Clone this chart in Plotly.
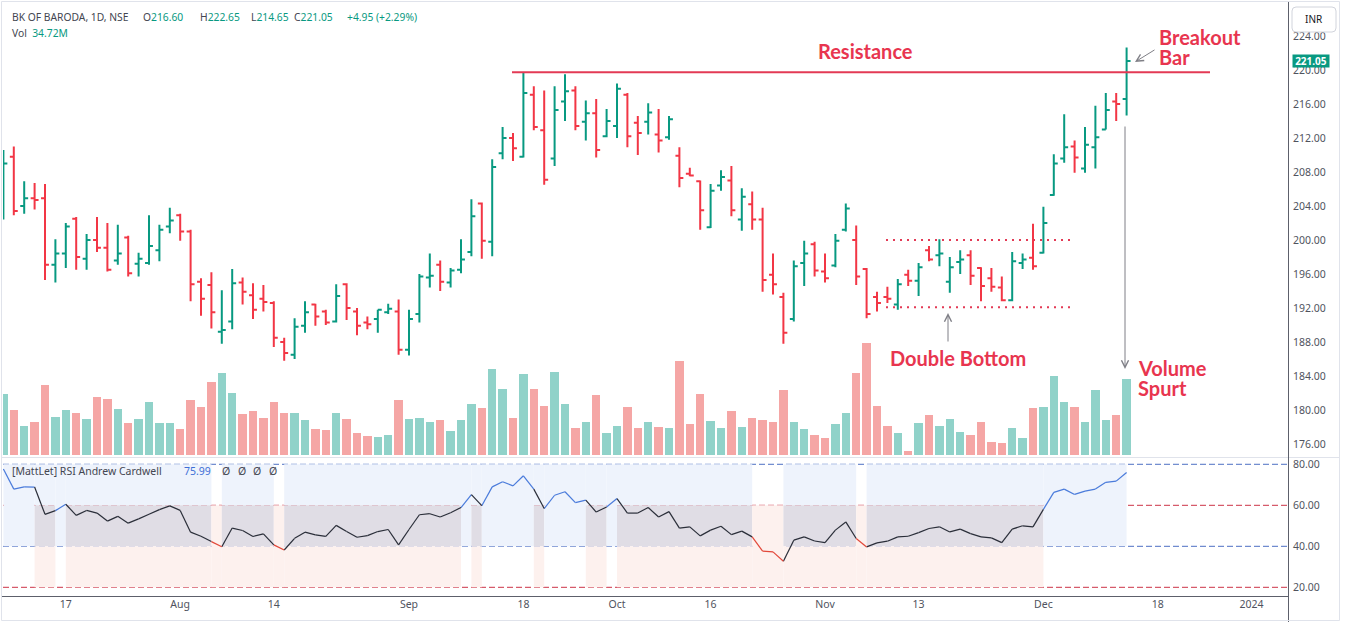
import plotly.graph_objects as go

# ---------------- data ----------------
opens = [206.5, 209.8, 204.0, 204.9, 204.9, 197.1, 198.4, 202.5, 197.8, 200.0,
         199.1, 197.6, 200.3, 197.2, 197.3, 198.8, 201.6, 202.9, 201.0, 195.1,
         194.7, 189.2, 190.4, 195.0, 193.5, 193.1, 192.6, 188.0, 186.5, 189.9,
         192.4, 191.6, 190.4, 194.8, 191.6, 190.3, 190.7, 191.5, 191.6, 187.1,
         191.3, 195.6, 197.1, 195.0, 196.5, 198.6, 204.3, 199.8, 210.2, 212.0,
         209.8, 217.1, 212.9, 209.6, 216.3, 217.6, 213.9, 214.9, 212.2, 213.4,
         217.1, 213.8, 213.9, 212.4, 212.1, 209.9, 207.8, 206.9, 201.5, 206.4,
         207.0, 202.4, 204.2, 202.4, 195.9, 193.3, 190.7, 197.3, 199.5, 196.3,
         197.0, 201.2, 200.0, 196.6, 193.3, 193.3, 192.4, 195.9, 195.2, 198.8,
         198.2, 195.1, 197.4, 198.2, 196.7, 195.5, 194.4, 192.9, 197.3, 197.9,
         198.5, 205.3, 209.6, 211.0, 208.4, 210.9, 213.0, 216.3, 216.60]
highs = [210.6, 211.0, 206.9, 206.7, 206.6, 200.1, 202.0, 202.7, 200.7, 202.7,
         202.0, 201.8, 200.5, 198.5, 202.9, 201.8, 203.8, 203.1, 201.2, 195.5,
         196.2, 194.1, 196.6, 195.6, 194.9, 194.7, 192.8, 188.5, 190.8, 192.8,
         192.5, 191.8, 194.8, 194.9, 192.0, 191.0, 191.8, 192.5, 193.0, 191.8,
         196.0, 198.4, 197.6, 196.7, 200.1, 204.8, 204.4, 209.5, 213.3, 212.6,
         219.7, 218.1, 217.6, 218.1, 219.5, 218.1, 216.4, 216.6, 215.4, 218.4,
         217.3, 214.6, 216.1, 215.4, 214.6, 210.9, 208.5, 207.0, 206.6, 208.2,
         208.7, 206.1, 205.7, 203.8, 198.4, 193.8, 197.6, 199.9, 199.8, 198.4,
         200.7, 204.3, 201.7, 196.7, 193.9, 194.5, 195.4, 196.5, 197.3, 199.3,
         200.1, 198.0, 198.8, 198.8, 196.8, 196.7, 195.7, 198.6, 198.4, 201.9,
         203.9, 210.1, 214.8, 211.7, 213.3, 215.8, 217.3, 217.3, 222.65]
lows = [202.4, 202.9, 203.1, 203.6, 195.3, 195.0, 196.7, 196.5, 196.5, 198.6,
        196.3, 197.1, 195.7, 195.7, 197.1, 197.5, 200.8, 199.9, 192.8, 191.1,
        189.6, 187.8, 189.5, 192.4, 190.7, 191.6, 187.4, 185.8, 186.0, 189.1,
        189.9, 190.0, 190.3, 190.6, 188.8, 189.5, 189.1, 191.3, 186.5, 186.4,
        190.3, 194.4, 194.0, 194.4, 196.1, 198.1, 197.8, 198.1, 209.5, 209.3,
        209.7, 212.9, 206.5, 208.7, 214.0, 212.9, 211.7, 209.7, 212.1, 212.0,
        210.9, 210.0, 212.4, 210.3, 211.8, 206.2, 207.5, 201.2, 201.4, 205.8,
        202.8, 201.1, 201.2, 193.9, 193.6, 187.8, 190.4, 194.6, 195.7, 195.0,
        196.8, 201.0, 194.7, 190.8, 191.6, 192.6, 191.8, 194.6, 193.4, 197.5,
        196.9, 193.8, 196.0, 194.7, 192.8, 193.9, 192.8, 192.8, 196.6, 196.5,
        198.4, 205.2, 209.1, 207.9, 207.9, 208.4, 213.0, 214.0, 214.65]
closes = [209.0, 203.4, 204.9, 204.7, 197.1, 198.4, 201.6, 198.0, 200.0, 199.1,
          196.5, 198.4, 196.1, 197.8, 199.3, 201.2, 202.3, 201.0, 194.8, 193.1,
          191.5, 189.4, 194.9, 193.9, 191.8, 192.7, 188.5, 186.7, 189.8, 191.5,
          191.0, 190.3, 193.4, 192.0, 189.9, 190.1, 191.8, 191.9, 187.1, 190.7,
          195.7, 195.8, 195.1, 196.4, 197.7, 202.8, 199.9, 208.6, 212.0, 210.8,
          217.3, 213.3, 207.1, 215.3, 217.5, 213.4, 214.9, 210.6, 214.0, 217.8,
          212.2, 212.6, 215.0, 211.7, 214.2, 207.3, 207.6, 203.5, 205.8, 207.4,
          203.5, 205.1, 202.4, 195.3, 194.8, 189.1, 196.9, 198.4, 196.4, 195.5,
          199.9, 203.7, 195.7, 191.3, 192.6, 193.1, 194.8, 195.2, 196.8, 197.7,
          198.4, 196.8, 197.7, 195.8, 194.6, 194.5, 192.9, 197.5, 197.7, 196.9,
          202.0, 209.0, 210.9, 209.7, 211.2, 212.1, 215.3, 216.0, 221.05]
volume_m = [27.8, 20.5, 13.2, 15.0, 32.0, 17.3, 20.5, 19.1, 16.4, 26.5,
            25.5, 21.0, 14.5, 16.4, 24.2, 14.5, 14.5, 11.8, 25.1, 21.9,
            33.3, 37.5, 28.3, 18.7, 20.0, 16.8, 24.2, 19.1, 19.1, 15.9,
            11.8, 11.3, 19.1, 16.4, 10.0, 8.6, 8.1, 9.0, 25.1, 16.4,
            16.8, 15.0, 15.9, 10.9, 15.9, 23.3, 21.4, 39.3, 30.1, 16.8,
            37.0, 30.1, 22.3, 37.9, 23.3, 12.2, 15.0, 27.4, 10.0, 13.2,
            21.9, 12.2, 15.0, 12.7, 12.5, 43.1, 14.2, 28.0, 15.6, 12.2,
            20.2, 12.7, 16.8, 16.1, 15.1, 29.8, 15.1, 11.8, 9.2, 7.8,
            14.2, 19.3, 37.6, 51.2, 22.5, 13.3, 10.0, 1.8, 14.7, 18.3,
            13.3, 16.5, 10.6, 9.2, 15.1, 6.0, 5.5, 12.4, 7.8, 21.6,
            22.0, 36.2, 24.3, 22.0, 15.1, 29.8, 16.1, 18.3, 34.72]
rsi = [77.7, 67.9, 69.0, 68.9, 55.6, 57.4, 60.5, 55.1, 57.5, 56.2,
       52.3, 54.6, 51.3, 53.4, 55.6, 57.9, 59.7, 57.5, 46.9, 44.9,
       42.3, 39.8, 48.9, 47.7, 44.8, 46.1, 40.7, 38.2, 43.9, 46.9,
       45.6, 44.8, 50.2, 47.2, 44.4, 45.2, 47.2, 48.2, 40.7, 48.2,
       55.4, 55.9, 54.3, 56.4, 58.9, 65.2, 59.8, 69.0, 71.5, 69.5,
       74.4, 67.9, 58.4, 64.9, 66.6, 61.3, 62.5, 56.7, 59.2, 63.3,
       56.2, 56.2, 58.9, 54.3, 56.9, 48.9, 49.5, 45.1, 47.9, 49.8,
       45.7, 47.4, 44.6, 37.6, 37.3, 32.7, 43.0, 44.6, 42.6, 41.8,
       47.9, 51.9, 43.8, 39.7, 41.7, 42.5, 44.6, 44.9, 46.7, 48.7,
       49.5, 47.0, 48.4, 46.2, 44.6, 44.1, 41.8, 48.4, 50.0, 49.5,
       58.0, 66.3, 67.9, 65.3, 66.9, 67.9, 71.2, 71.8, 75.99]
date_tick_pos = [6, 17, 26, 39, 50, 59, 68, 79, 88, 100, 111, 120]
date_tick_text = ["17", "Aug", "14", "Sep", "18", "Oct", "16", "Nov", "13", "Dec", "18", "2024"]
price_ticks = [176, 180, 184, 188, 192, 196, 200, 204, 208, 212, 216, 220, 224]
rsi_ticks = [20, 40, 60, 80]
resistance_level = 219.75
double_bottom_levels = [200.0, 192.08]
last_price = 221.05

# ---------------- geometry helpers ----------------
W, H = 1345, 627
ML, MR, MT, MB = 3, 57, 5, 31
PW, PH = W - ML - MR, H - MT - MB


def pxx(px):
    return (px - ML) / PW


def pxy(py):
    return (H - MB - py) / PH


def idx(px):
    return (px - 3.4) / 10.4


def price(py):
    return 216 - (py - 104) / 8.5


n = len(closes)
xs = list(range(n))
GREEN, RED = "#089981", "#f23645"
ANN_RED = "#e8354f"
GREY_TXT = "#50535e"

fig = go.Figure()

vol_colors = ["#90d2c9" if c >= o else "#f5a6a5" for o, c in zip(opens, closes)]
fig.add_trace(go.Bar(x=xs, y=volume_m, marker=dict(color=vol_colors, line=dict(width=0)),
                     width=0.82, xaxis="x", yaxis="y", hoverinfo="skip", showlegend=False))

fig.add_trace(go.Ohlc(x=xs, open=opens, high=highs, low=lows, close=closes,
                      increasing=dict(line=dict(color=GREEN, width=2)),
                      decreasing=dict(line=dict(color=RED, width=2)),
                      tickwidth=0.38, xaxis="x", yaxis="y2", hoverinfo="skip", showlegend=False))


def regime(v):
    if v > 60:
        return "bull"
    if v < 40:
        return "bear"
    return "mid"


line_cols = {"bull": "#4a7bdb", "mid": "#2a2e39", "bear": "#e2483a"}
segs = {k: ([], []) for k in line_cols}
for i in range(1, n):
    k = regime(rsi[i])
    segs[k][0].extend([i - 1, i, None])
    segs[k][1].extend([rsi[i - 1], rsi[i], None])
for k, (sx, sy) in segs.items():
    fig.add_trace(go.Scatter(x=sx, y=sy, mode="lines", line=dict(color=line_cols[k], width=1.2),
                             xaxis="x", yaxis="y3", hoverinfo="skip", showlegend=False))

shapes = []
BLUE_F, GREY_F, PINK_F = "#eef3fc", "#e0dde5", "#fdf1ee"
runs = []
for i in range(1, n):
    k = regime(rsi[i])
    if runs and runs[-1][0] == k:
        runs[-1][2] = i
    else:
        runs.append([k, i - 1, i])
for k, a, b in runs:
    if k == "bull":
        bands = [(40, 80, BLUE_F)]
    elif k == "bear":
        bands = [(20, 60, PINK_F)]
    else:
        bands = [(60, 80, BLUE_F), (40, 60, GREY_F), (20, 40, PINK_F)]
    for y0, y1, col in bands:
        shapes.append(dict(type="rect", xref="x", yref="y3", x0=a, x1=b, y0=y0, y1=y1,
                           fillcolor=col, line=dict(width=0), layer="below"))

# legend backdrop in RSI pane
shapes.append(dict(type="rect", xref="paper", yref="paper", x0=pxx(10), x1=pxx(278),
                   y0=pxy(481), y1=pxy(463), fillcolor="rgba(255,255,255,0.55)",
                   line=dict(width=0), layer="below"))

for lvl, col in [(80, "#4d6fc4"), (60, "#cc3347"), (40, "#4d6fc4"), (20, "#cc3347")]:
    shapes.append(dict(type="line", xref="paper", yref="y3", x0=0, x1=1, y0=lvl, y1=lvl,
                       line=dict(color=col, width=1, dash="6px,3px"), layer="below"))

# resistance + double bottom guides
shapes.append(dict(type="line", xref="x", yref="y2", x0=idx(512), x1=idx(1210),
                   y0=resistance_level, y1=resistance_level,
                   line=dict(color="#e33a55", width=2)))
for lvl in double_bottom_levels:
    shapes.append(dict(type="line", xref="x", yref="y2", x0=idx(886), x1=idx(1074),
                       y0=lvl, y1=lvl, line=dict(color="#e33a55", width=2, dash="2px,5px")))

# frame / separators
shapes.append(dict(type="line", xref="paper", yref="paper", x0=pxx(2), x1=pxx(1339),
                   y0=pxy(457.5), y1=pxy(457.5), line=dict(color="#e0e3eb", width=1)))
shapes.append(dict(type="line", xref="paper", yref="paper", x0=pxx(2), x1=pxx(1289),
                   y0=pxy(596.5), y1=pxy(596.5), line=dict(color="#5d606b", width=1)))
shapes.append(dict(type="line", xref="paper", yref="paper", x0=pxx(1288.5), x1=pxx(1288.5),
                   y0=pxy(2), y1=pxy(622), line=dict(color="#5d606b", width=1)))
shapes.append(dict(type="rect", xref="paper", yref="paper", x0=pxx(1.5), x1=pxx(1339.5),
                   y0=pxy(1.5), y1=pxy(620.5), line=dict(color="#e0e3eb", width=1)))


def rounded(x0, y0, x1, y1, r):
    pts = [
        f"M{pxx(x0 + r)},{pxy(y0)}", f"L{pxx(x1 - r)},{pxy(y0)}",
        f"Q{pxx(x1)},{pxy(y0)} {pxx(x1)},{pxy(y0 + r)}", f"L{pxx(x1)},{pxy(y1 - r)}",
        f"Q{pxx(x1)},{pxy(y1)} {pxx(x1 - r)},{pxy(y1)}", f"L{pxx(x0 + r)},{pxy(y1)}",
        f"Q{pxx(x0)},{pxy(y1)} {pxx(x0)},{pxy(y1 - r)}", f"L{pxx(x0)},{pxy(y0 + r)}",
        f"Q{pxx(x0)},{pxy(y0)} {pxx(x0 + r)},{pxy(y0)}", "Z"]
    return " ".join(pts)


shapes.append(dict(type="path", xref="paper", yref="paper", path=rounded(1292, 7, 1336, 32, 4),
                   fillcolor="white", line=dict(color="#d1d4dc", width=1), layer="above"))

ann = []
TXT = "Noto Sans"


def label(px, py, text, color=GREY_TXT, size=11.5, family=TXT, weight=None, anchor="left"):
    f = dict(family=family, size=size, color=color)
    if weight:
        f["weight"] = weight
    ann.append(dict(xref="paper", yref="paper", x=pxx(px), y=pxy(py), text=text, showarrow=False,
                    xanchor=anchor, yanchor="middle", font=f))


G = "#434651"
LS = 10.3
label(10, 17, "BK OF BARODA, 1D, NSE", color=G, size=LS)
for xpx, letter, val in [(141, "O", "216.60"), (198, "H", "222.65"), (249, "L", "214.65"),
                         (292, "C", "221.05")]:
    label(xpx, 17, f"{letter}<span style='color:{GREEN}'>{val}</span>", color=G, size=LS)
label(345, 17, "+4.95 (+2.29%)", color=GREEN, size=LS)
label(10, 33, f"Vol&nbsp;&nbsp;<span style='color:{GREEN}'>34.72M</span>", color=G, size=LS)
label(10, 471, "[MattLet] RSI Andrew Cardwell", color=G, size=10.5)
label(182, 471, f"{rsi[-1]:.2f}", color="#3d6fd6", size=10.5)
for xpx in [220, 236, 251, 267]:
    label(xpx, 471, "Ø", color=G, size=10.5)

for px, py, t in [(816, 51, "Resistance"), (1157, 37.5, "Breakout"), (1157, 57, "Bar"),
                  (1136, 367.5, "Volume"), (1136, 387.5, "Spurt"), (888, 357.5, "Double Bottom")]:
    label(px, py, t, color=ANN_RED, size=20, family="Lato", weight=700)

label(1313.5, 19.5, "INR", color="#131722", size=10, anchor="center")

ARROW = "#7f7f86"
for hx, hy, ax, ay in [(1135, 62, 21, -13), (1125, 369, 0, -244), (948, 313, 0, 30)]:
    ann.append(dict(xref="x", yref="y2", x=idx(hx), y=price(hy), ax=ax, ay=ay, text="",
                    showarrow=True, arrowhead=5, arrowsize=1.4, arrowwidth=1,
                    arrowcolor=ARROW, standoff=0))

ann.append(dict(xref="paper", yref="y2", x=pxx(1292), y=last_price, text=f"<b>{last_price:.2f}</b>",
                showarrow=False, xanchor="left", yanchor="middle", bgcolor=GREEN,
                font=dict(family=TXT, size=10, color="white"), borderpad=1, width=34, height=10))

tickfont = dict(family=TXT, size=10.5, color=GREY_TXT)
fig.update_layout(
    width=W, height=H, margin=dict(l=ML, r=MR, t=MT, b=MB),
    paper_bgcolor="white", plot_bgcolor="white", showlegend=False, bargap=0,
    xaxis=dict(domain=[0, 1], range=[idx(3), idx(1288)], anchor="y3", tickmode="array",
               tickvals=date_tick_pos, ticktext=date_tick_text, showgrid=False, zeroline=False,
               showline=False, ticks="", tickfont=tickfont, rangeslider=dict(visible=False),
               fixedrange=True),
    yaxis=dict(domain=[pxy(457), 1], range=[-0.92, 206.4], visible=False, anchor="x",
               fixedrange=True),
    yaxis2=dict(overlaying="y", side="right", anchor="x", range=[price(457), price(5)],
                tickmode="array", tickvals=price_ticks,
                ticktext=[f"{v:.2f}" for v in price_ticks], showgrid=False, zeroline=False,
                showline=False, ticks="", tickfont=tickfont, ticklabelstandoff=4,
                fixedrange=True),
    yaxis3=dict(domain=[0, pxy(458)], range=[15.76, 83.07], side="right", anchor="x",
                tickmode="array", tickvals=rsi_ticks, ticktext=[f"{v:.2f}" for v in rsi_ticks],
                showgrid=False, zeroline=False, showline=False, ticks="", tickfont=tickfont,
                ticklabelstandoff=4, fixedrange=True),
    shapes=shapes, annotations=ann,
)

fig.write_html("out.html", include_plotlyjs=True, full_html=True,
               config={"displayModeBar": False},
               post_script="document.body.style.margin='0';document.body.style.padding='0';")
